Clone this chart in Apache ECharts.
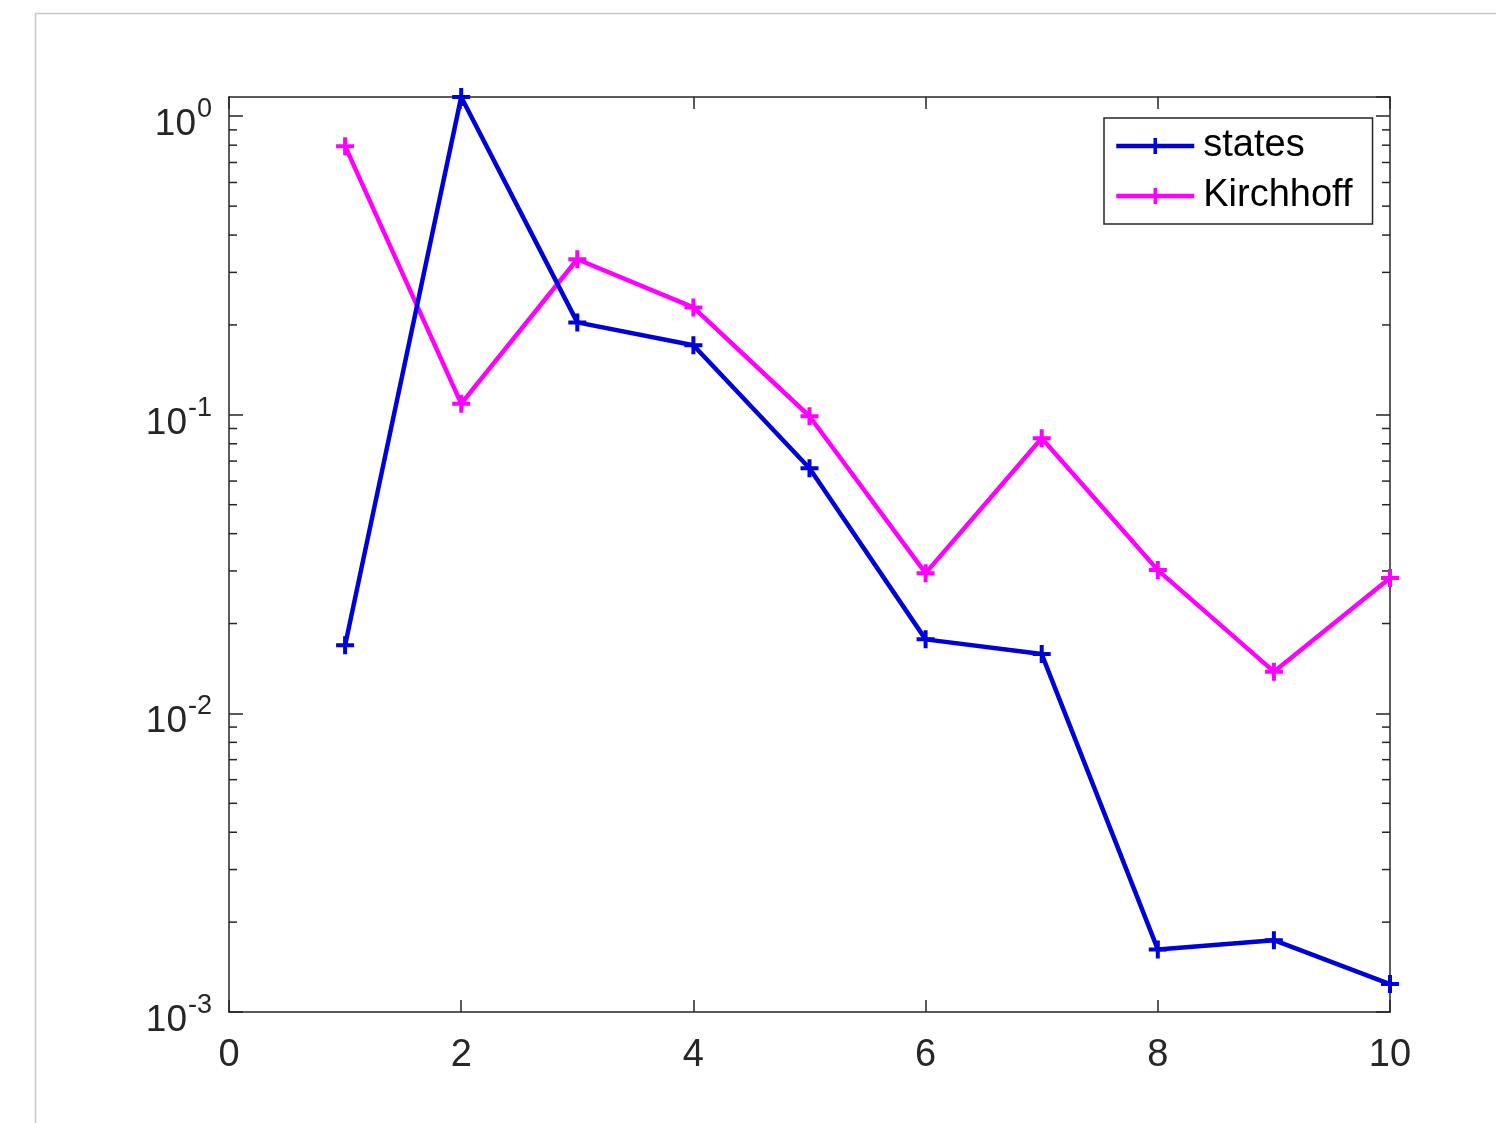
<!DOCTYPE html>
<html>
<head>
<meta charset="utf-8">
<script src="https://cdn.jsdelivr.net/npm/echarts@6/dist/echarts.min.js"></script>
<style>
html,body{margin:0;padding:0;background:#fff;}
#chart{width:1496px;height:1123px;}
</style>
</head>
<body>
<div id="chart"></div>
<script>
var xValues = [1, 2, 3, 4, 5, 6, 7, 8, 9, 10];
var statesValues = [0.0169, 1.16, 0.204, 0.171, 0.0662, 0.0177, 0.0158, 0.00162, 0.00174, 0.00124];
var kirchhoffValues = [0.794, 0.109, 0.332, 0.229, 0.0989, 0.0295, 0.0835, 0.0302, 0.0138, 0.0284];
var seriesNames = ['states', 'Kirchhoff'];
var yMinorTicks = [0.002, 0.003, 0.004, 0.005, 0.006, 0.007, 0.008, 0.009,
                   0.02, 0.03, 0.04, 0.05, 0.06, 0.07, 0.08, 0.09,
                   0.2, 0.3, 0.4, 0.5, 0.6, 0.7, 0.8, 0.9];
var xMin = 0, xMax = 10, xInterval = 2;
var yMin = 0.001, yMax = 1.16;

var FONT = '"Liberation Sans", Arial, sans-serif';
var AXC = '#262626';
var plus = 'path://M7,0 H11 V7 H18 V11 H11 V18 H7 V11 H0 V7 H7 Z';

function pairs(ys){ return xValues.map(function(x,i){ return [x, ys[i]]; }); }

var chart = echarts.init(document.getElementById('chart'), null, {renderer:'canvas'});
var option = {
  backgroundColor: '#fff',
  animation: false,
  textStyle: {fontFamily: FONT},
  graphic: [{
    type: 'rect', silent: true, z: -10,
    shape: {x: 35.5, y: 13.5, width: 2000, height: 2000},
    style: {fill: 'none', stroke: '#c8c8c8', lineWidth: 1.5}
  }],
  grid: {left: 229, right: 106, top: 97, bottom: 111, containLabel: false},
  legend: {
    orient: 'vertical', left: 1104, top: 118,
    data: seriesNames,
    backgroundColor: '#fff',
    borderColor: AXC, borderWidth: 1.5, borderRadius: 0,
    padding: [8, 20, 8, 10],
    itemWidth: 78, itemHeight: 20, itemGap: 10,
    lineStyle: {width: 4.5},
    textStyle: {fontSize: 38, color: '#000', fontFamily: FONT, lineHeight: 40, padding: [0,0,0,4]}
  },
  xAxis: [{
    type: 'value', min: xMin, max: xMax, interval: xInterval, position: 'bottom',
    axisLine: {show: true, onZero: false, lineStyle: {color: AXC, width: 1.5}},
    axisTick: {show: true, inside: true, length: 12, lineStyle: {color: AXC, width: 1.5}},
    axisLabel: {fontSize: 38, color: AXC, margin: 25, fontFamily: FONT},
    splitLine: {show: false}
  }, {
    type: 'value', min: xMin, max: xMax, interval: xInterval, position: 'top',
    axisLine: {show: true, onZero: false, lineStyle: {color: AXC, width: 1.5}},
    axisTick: {show: true, inside: true, length: 12, lineStyle: {color: AXC, width: 1.5}},
    axisLabel: {show: false},
    splitLine: {show: false}
  }],
  yAxis: [{
    type: 'log', logBase: 10, min: yMin, max: yMax, position: 'left',
    axisLine: {show: true, onZero: false, lineStyle: {color: AXC, width: 1.5}},
    axisTick: {show: true, inside: true, length: 14, lineStyle: {color: AXC, width: 1.5}},
    axisLabel: {
      margin: 17, showMaxLabel: false, color: AXC,
      padding: [18, 0, 0, 0],
      formatter: function(v){
        var e = Math.round(Math.log(v)/Math.LN10);
        return '{b|10}{s|' + e + '}';
      },
      rich: {
        b: {fontSize: 37, fontFamily: FONT, color: AXC, lineHeight: 36, verticalAlign: 'bottom'},
        s: {fontSize: 27, fontFamily: FONT, color: AXC, lineHeight: 27, verticalAlign: 'bottom', padding: [0,0,20,1]}
      }
    },
    splitLine: {show: false}
  }, {
    type: 'log', logBase: 10, min: yMin, max: yMax, position: 'right',
    axisLine: {show: true, onZero: false, lineStyle: {color: AXC, width: 1.5}},
    axisTick: {show: true, inside: true, length: 14, lineStyle: {color: AXC, width: 1.5}},
    axisLabel: {show: false},
    splitLine: {show: false}
  }],
  series: [{
    type: 'custom', silent: true, clip: false, z: 1,
    xAxisIndex: 0, yAxisIndex: 0,
    data: yMinorTicks.map(function(v){ return [xMin, v]; }),
    renderItem: function(params, api){
      var v = api.value(1);
      var p1 = api.coord([xMin, v]);
      var p2 = api.coord([xMax, v]);
      var st = {stroke: AXC, lineWidth: 1.5};
      return {type: 'group', children: [
        {type: 'line', shape: {x1: p1[0], y1: p1[1], x2: p1[0] + 8, y2: p1[1]}, style: st},
        {type: 'line', shape: {x1: p2[0] - 8, y1: p2[1], x2: p2[0], y2: p2[1]}, style: st}
      ]};
    }
  }, {
    name: seriesNames[0], type: 'line', xAxisIndex: 0, yAxisIndex: 0,
    data: pairs(statesValues),
    symbol: plus, symbolSize: 18, showSymbol: true, clip: false, z: 3,
    lineStyle: {color: '#0000d8', width: 4.5},
    itemStyle: {color: '#0000d8'}
  }, {
    name: seriesNames[1], type: 'line', xAxisIndex: 0, yAxisIndex: 0,
    data: pairs(kirchhoffValues),
    symbol: plus, symbolSize: 18, showSymbol: true, clip: false, z: 2,
    lineStyle: {color: '#ff00ff', width: 4.5},
    itemStyle: {color: '#ff00ff'}
  }]
};
chart.setOption(option);
</script>
</body>
</html>
